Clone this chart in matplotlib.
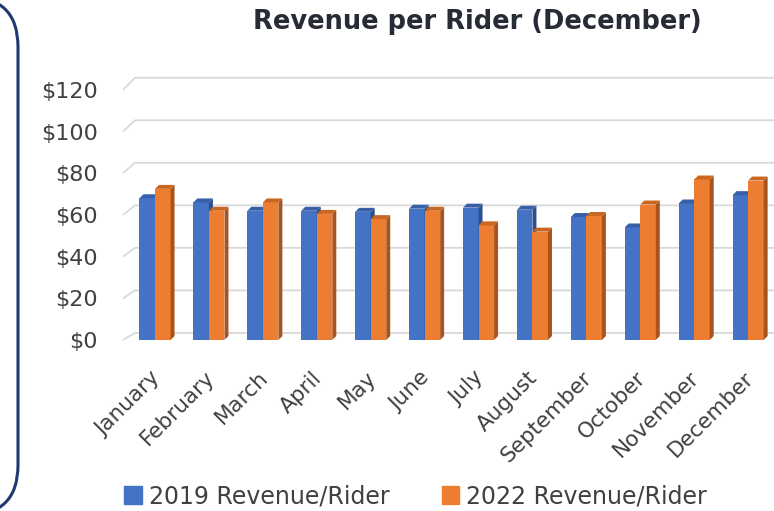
import numpy as np
import matplotlib.pyplot as plt
from matplotlib.patches import Polygon, FancyBboxPatch, Rectangle
from matplotlib.transforms import IdentityTransform

months = ['January', 'February', 'March', 'April', 'May', 'June', 'July',
          'August', 'September', 'October', 'November', 'December']
rev_2019 = [68, 66, 62, 62, 61.5, 63, 63.5, 62.5, 59, 54, 65.5, 69.5]
rev_2022 = [72.5, 62, 66, 60.5, 58, 62, 55, 52, 59.5, 65, 77, 76.5]
yticks = [0, 20, 40, 60, 80, 100, 120]

blue, blue_side, blue_top = '#4472C4', '#2C4F8E', '#365FA8'
orange, orange_side, orange_top = '#ED7D31', '#A9541C', '#C9661F'

fig = plt.figure(figsize=(7.74, 5.11), dpi=100)
ax = fig.add_axes([123 / 774, 1 - 340 / 511, 1 - 123 / 774, (340 - 69) / 511])
x0, x1 = -0.594, 11.48
ax.set_xlim(x0, x1)
ax.set_ylim(0, 130)

# back wall gridlines with a small slanted leg at the front left
for v in yticks:
    vb = v * 1.02 + 3.4
    ax.plot([x0, x0 + 0.223, x1], [v, vb, vb], color='#D9D9D9', lw=1.3,
            zorder=0, clip_on=False, solid_capstyle='butt')

x = np.arange(len(months))
w = 0.288
ddx, ddy = 0.074, 1.9


def bars3d(xc, vals, front, side, top, z):
    ax.bar(xc, vals, width=w, color=front, zorder=z)
    for xi, h in zip(xc, vals):
        xl, xr = xi - w / 2, xi + w / 2
        ax.add_patch(Polygon([(xr, 0), (xr + ddx, ddy), (xr + ddx, h + ddy), (xr, h)],
                             closed=True, color=side, lw=0, zorder=z))
        ax.add_patch(Polygon([(xl, h), (xl + ddx, h + ddy), (xr + ddx, h + ddy), (xr, h)],
                             closed=True, color=top, lw=0, zorder=z))


bars3d(x - w / 2, rev_2019, blue, blue_side, blue_top, 2)
bars3d(x + w / 2, rev_2022, orange, orange_side, orange_top, 3)

for s in ax.spines.values():
    s.set_visible(False)
ax.set_yticks(yticks)
ax.set_yticklabels(['$%d' % v for v in yticks], fontsize=16, color='#404040')
ax.set_xticks(x + 0.04)
ax.set_xticklabels(months, rotation=45, ha='right', va='center',
                   rotation_mode='anchor', fontsize=15.5, color='#404040')
ax.tick_params(axis='y', length=0, pad=18)
ax.tick_params(axis='x', length=0, pad=25)

fig.text(0.617, 0.957, 'Revenue per Rider (December)', ha='center', va='center',
         fontsize=18.5, fontweight='bold', color='#262B36')

handles = [Rectangle((0, 0), 1, 1, color=blue), Rectangle((0, 0), 1, 1, color=orange)]
fig.legend(handles, ['2019 Revenue/Rider', '2022 Revenue/Rider'], loc='center',
           bbox_to_anchor=(0.537, 0.029), ncol=2, frameon=False, fontsize=17,
           handlelength=0.75, handleheight=0.75, handletextpad=0.3,
           columnspacing=2.2, labelcolor='#404040')

# edge of the neighbouring rounded box on the left
box = FancyBboxPatch((-300 + 50, 511 - 515 + 50), 318 - 100, 518 - 100,
                     boxstyle='round,pad=50', transform=IdentityTransform(),
                     fill=False, edgecolor='#1F3A6E', lw=2.2)
fig.patches.append(box)

fig.savefig('out.png', dpi=100)
